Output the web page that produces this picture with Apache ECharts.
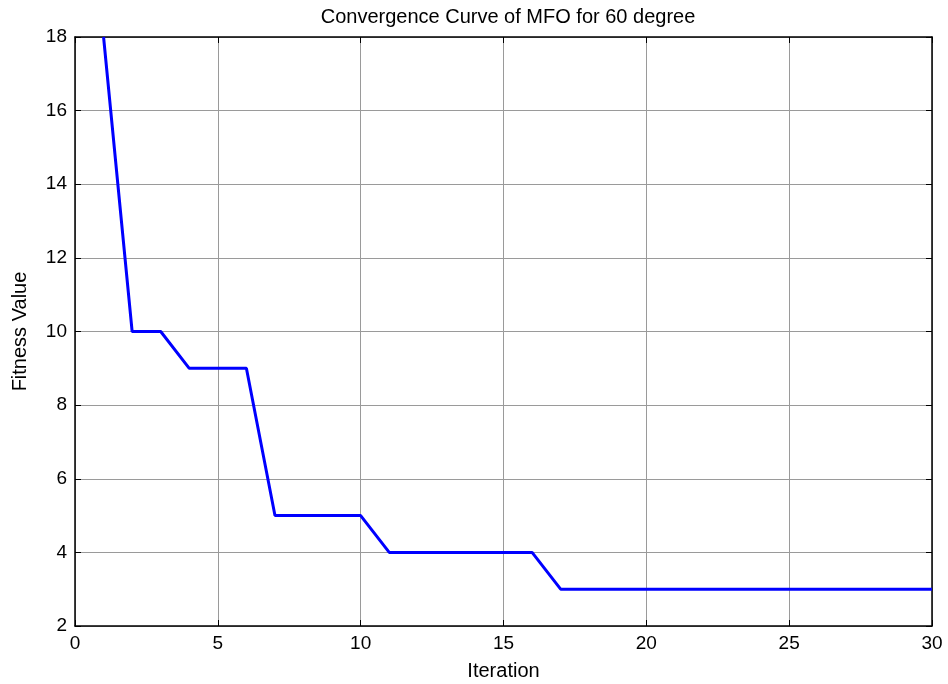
<!DOCTYPE html>
<html>
<head>
<meta charset="utf-8">
<script src="https://cdn.jsdelivr.net/npm/echarts@6/dist/echarts.min.js"></script>
<style>
  html, body { margin: 0; padding: 0; background: #fff; }
  #chart { width: 948px; height: 684px; }
</style>
</head>
<body>
<div id="chart"></div>
<script>
  // 数据
  const iterations = [1, 2, 3, 4, 5, 6, 7, 8, 9, 10, 11, 12, 13, 14, 15, 16, 17, 18, 19, 20, 21, 22, 23, 24, 25, 26, 27, 28, 29, 30];
  const fitness = [18, 10, 10, 9, 9, 9, 5, 5, 5, 5, 4, 4, 4, 4, 4, 4, 3, 3, 3, 3, 3, 3, 3, 3, 3, 3, 3, 3, 3, 3];

  const ecLine = echarts.init(document.getElementById('chart'));
  const font = 'Liberation Sans, Arial, sans-serif';

  // 边框轴（上、右），只画刻度
  const boxAxis = {
    axisLine: { show: true, onZero: false, lineStyle: { color: '#000', width: 1.5 } },
    axisTick: { show: true, inside: true, length: 6, lineStyle: { color: '#000' } },
    axisLabel: { show: false },
    splitLine: { show: false }
  };

  const option = {
    animation: false,
    title: {
      text: 'Convergence Curve of MFO for 60 degree',
      left: 503, top: 2, textAlign: 'center',
      textStyle: { fontFamily: font, fontSize: 20, fontWeight: 'normal', color: '#000' }
    },
    grid: { left: 75, right: 16, top: 37, bottom: 58, outerBoundsMode: 'none', containLabel: false },
    xAxis: [{
      type: 'value', min: 0, max: 30, interval: 5,
      name: 'Iteration', nameLocation: 'middle', nameGap: 35,
      nameTextStyle: { fontFamily: font, fontSize: 20, color: '#000' },
      axisLine: { show: true, onZero: false, lineStyle: { color: '#000', width: 1.5 } },
      axisTick: { show: true, inside: true, length: 6, lineStyle: { color: '#000' } },
      axisLabel: { fontFamily: font, fontSize: 19, color: '#000', margin: 8 },
      splitLine: { show: true, lineStyle: { color: '#9a9a9a', width: 1 } }
    }, Object.assign({ type: 'value', min: 0, max: 30, interval: 5, position: 'top' }, boxAxis)],
    yAxis: [{
      type: 'value', min: 2, max: 18, interval: 2,
      name: 'Fitness Value', nameLocation: 'middle', nameGap: 45,
      nameTextStyle: { fontFamily: font, fontSize: 20, color: '#000' },
      axisLine: { show: true, onZero: false, lineStyle: { color: '#000', width: 1.5 } },
      axisTick: { show: true, inside: true, length: 6, lineStyle: { color: '#000' } },
      axisLabel: { fontFamily: font, fontSize: 19, color: '#000', margin: 8 },
      splitLine: { show: true, lineStyle: { color: '#9a9a9a', width: 1 } }
    }, Object.assign({ type: 'value', min: 2, max: 18, interval: 2, position: 'right' }, boxAxis)],
    series: [{
      type: 'line',
      data: iterations.map((x, i) => [x, fitness[i]]),
      symbol: 'none',
      lineStyle: { color: '#0000ff', width: 3 },
      clip: true
    }]
  };
  ecLine.setOption(option);
</script>
</body>
</html>
